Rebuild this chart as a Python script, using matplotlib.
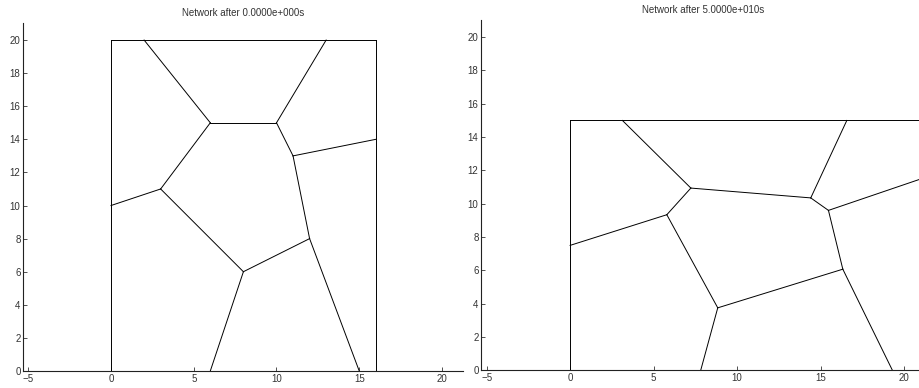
import matplotlib
matplotlib.use('Agg')
import matplotlib.pyplot as plt

plt.rcParams['font.family'] = ['Liberation Sans', 'DejaVu Sans']

# red al tiempo 0
titulo0 = 'Network after 0.0000e+000s'
nodos0 = {
    'p1': (0, 0), 'p2': (16, 0), 'p3': (16, 20), 'p4': (0, 20),
    'a': (2, 20), 'b': (13, 20), 'c': (6, 15), 'd': (10, 15),
    'e': (11, 13), 'f': (16, 14), 'g': (3, 11), 'h': (0, 10),
    'i': (8, 6), 'j': (12, 8), 'k': (6, 0), 'l': (15, 0),
}
aristas0 = [('p1', 'p2'), ('p2', 'p3'), ('p3', 'p4'), ('p4', 'p1'),
            ('a', 'c'), ('b', 'd'), ('c', 'd'), ('d', 'e'), ('e', 'f'),
            ('c', 'g'), ('g', 'h'), ('g', 'i'), ('e', 'j'), ('j', 'i'),
            ('i', 'k'), ('j', 'l')]

# red al tiempo 5e10
titulo1 = 'Network after 5.0000e+010s'
nodos1 = {
    'p1': (0, 0), 'p2': (21.33, 0), 'p3': (21.33, 15), 'p4': (0, 15),
    'a': (3.13, 15), 'b': (7.23, 10.94), 'c': (14.41, 10.35), 'd': (16.57, 15),
    'e': (15.47, 9.6), 'f': (21.33, 11.6), 'g': (5.79, 9.34), 'h': (0, 7.5),
    'i': (8.84, 3.75), 'j': (16.33, 6.07), 'k': (7.82, 0), 'l': (19.3, 0),
}
aristas1 = [('p1', 'p2'), ('p2', 'p3'), ('p3', 'p4'), ('p4', 'p1'),
            ('a', 'b'), ('b', 'g'), ('b', 'c'), ('c', 'd'), ('c', 'e'),
            ('e', 'f'), ('e', 'j'), ('j', 'i'), ('i', 'g'), ('g', 'h'),
            ('i', 'k'), ('j', 'l')]

xticks = [-5, 0, 5, 10, 15, 20]
yticks = list(range(0, 21, 2))


def dibujar(ax, nodos, aristas, titulo):
    for n1, n2 in aristas:
        x1, y1 = nodos[n1]
        x2, y2 = nodos[n2]
        ax.plot([x1, x2], [y1, y2], color='black', lw=0.7)
    ax.set_xlim(-5.3, 21.27)
    ax.set_ylim(0, 21.03)
    ax.set_xticks(xticks)
    ax.set_yticks(yticks)
    for s in ['top', 'right']:
        ax.spines[s].set_visible(False)
    for s in ['left', 'bottom']:
        ax.spines[s].set_linewidth(0.8)
        ax.spines[s].set_color('#222222')
    ax.tick_params(direction='in', length=3, width=0.6, labelsize=7,
                   colors='#333333', pad=2)
    ax.set_title(titulo, fontsize=7, color='#333333', pad=5)


fig = plt.figure(figsize=(9.19, 3.88), dpi=100)
ax0 = fig.add_axes([23.3 / 919, 17 / 388, 439.7 / 919, 348 / 388])
ax1 = fig.add_axes([481.3 / 919, 17.7 / 388, 444 / 919, 350.3 / 388])
dibujar(ax0, nodos0, aristas0, titulo0)
dibujar(ax1, nodos1, aristas1, titulo1)
ax1.set_xlim(-5.32, 21.27)

fig.savefig('out.png', dpi=100)
